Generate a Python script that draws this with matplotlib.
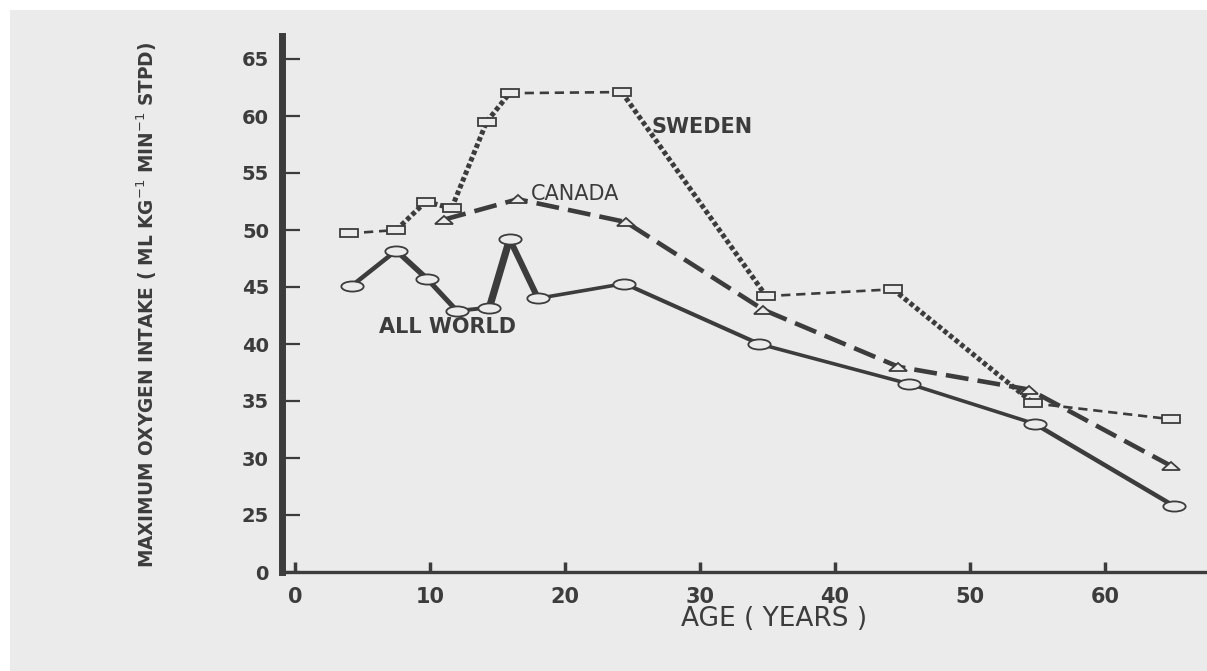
import matplotlib
matplotlib.use('Agg')
import matplotlib.pyplot as plt
from matplotlib.markers import MarkerStyle
from matplotlib.transforms import Affine2D
from matplotlib.patches import Rectangle

# values (age in years, VO2 max in ml/kg/min)
sweden_age = [4.0, 7.5, 9.7, 11.6, 14.2, 15.9, 24.2, 34.9, 44.3, 54.7, 64.9]
sweden_vo2 = [49.7, 50.0, 52.5, 51.9, 59.5, 62.0, 62.1, 44.2, 44.8, 34.8, 33.4]

canada_age = [11.0, 16.5, 24.5, 34.7, 44.7, 54.4, 64.9]
canada_vo2 = [50.9, 52.7, 50.7, 43.0, 38.0, 36.0, 29.3]

world_age = [4.2, 7.5, 9.8, 12.0, 14.4, 15.9, 18.0, 24.4, 34.4, 45.5, 54.8, 65.1]
world_vo2 = [45.1, 48.2, 45.7, 42.9, 43.2, 49.2, 44.0, 45.3, 40.0, 36.5, 33.0, 25.8]

x_ticks = [0, 10, 20, 30, 40, 50, 60]
# broken y axis: the bottom "0" sits where 20 would be
y_ticks = [20, 25, 30, 35, 40, 45, 50, 55, 60, 65]
y_ticklabels = ['0', '25', '30', '35', '40', '45', '50', '55', '60', '65']

# segment styles of the Sweden line (dotted / thin dashed pieces)
sweden_seg = ['dash', 'dot', 'dot', 'dot', 'dot', 'dash', 'dot', 'dash', 'dot', 'dash']
# line width per segment of the All World line
world_lw = [3.2, 4.0, 3.6, 2.8, 5.2, 4.4, 2.6, 2.9, 2.6, 2.6, 3.2]

ink = '#3c3c3c'
paper = '#ebebeb'

fig = plt.figure(figsize=(12.07, 6.71), dpi=100)
fig.patch.set_facecolor(paper)
# white scan border
fig.patches.append(Rectangle((0, 0), 10 / 1207, 1, transform=fig.transFigure,
                             facecolor='white', edgecolor='none', zorder=-1))
fig.patches.append(Rectangle((0, 1 - 10 / 671), 1, 10 / 671, transform=fig.transFigure,
                             facecolor='white', edgecolor='none', zorder=-1))

ax = fig.add_axes([281.5 / 1207, 99 / 671, 925.5 / 1207, 536 / 671])
ax.set_facecolor('none')
ax.set_xlim(-1, -1 + 925.5 / 13.5)
ax.set_ylim(20, 20 + 536 / 11.4)

# Sweden
for i in range(len(sweden_age) - 1):
    xs = sweden_age[i:i + 2]
    ys = sweden_vo2[i:i + 2]
    if sweden_seg[i] == 'dot':
        ax.plot(xs, ys, color=ink, lw=3.6, dashes=(0.9, 0.55), zorder=2)
    else:
        ax.plot(xs, ys, color=ink, lw=1.9, dashes=(3.5, 2.2), zorder=2)

# Canada
ax.plot(canada_age, canada_vo2, color=ink, lw=3.3, dashes=(5, 2), zorder=2)

# All World
for i in range(len(world_age) - 1):
    ax.plot(world_age[i:i + 2], world_vo2[i:i + 2], color=ink,
            lw=world_lw[i], solid_capstyle='round', zorder=2)

# markers (scan is stretched sideways, so markers are wide)
sq = MarkerStyle('s', transform=Affine2D().scale(2.2, 1.0))
tri = MarkerStyle('^', transform=Affine2D().scale(2.4, 1.0))
circ = MarkerStyle('o', transform=Affine2D().scale(2.2, 1.0))
ax.plot(sweden_age, sweden_vo2, ls='none', marker=sq, ms=6, mfc=paper, mec=ink, mew=1.3, zorder=4)
ax.plot(canada_age, canada_vo2, ls='none', marker=tri, ms=5.5, mfc=paper, mec=ink, mew=1.3, zorder=4)
ax.plot(world_age, world_vo2, ls='none', marker=circ, ms=7.3, mfc=paper, mec=ink, mew=1.3, zorder=4)

# labels on the lines
ax.text(26.4, 58.5, 'SWEDEN', fontsize=15, fontweight='bold', color=ink, ha='left', va='baseline')
ax.text(17.5, 52.6, 'CANADA', fontsize=15, color=ink, ha='left', va='baseline')
ax.text(6.2, 40.95, 'ALL WORLD', fontsize=15, fontweight='bold', color=ink, ha='left', va='baseline')

# axes
for s in ['top', 'right']:
    ax.spines[s].set_visible(False)
ax.spines['left'].set_linewidth(5)
ax.spines['left'].set_color(ink)
ax.spines['bottom'].set_linewidth(2.4)
ax.spines['bottom'].set_color(ink)

ax.set_xticks(x_ticks)
ax.set_xticklabels([str(t) for t in x_ticks], fontsize=15, fontweight='bold', color=ink)
ax.set_yticks(y_ticks)
ax.set_yticklabels(y_ticklabels, fontsize=14, fontweight='bold', color=ink)
ax.tick_params(axis='x', direction='in', length=7, width=2.5, pad=11, color=ink)
ax.tick_params(axis='y', direction='in', length=13, width=1.6, pad=9, color=ink)

xlab = ax.set_xlabel('AGE ( YEARS )', fontsize=19, color=ink)
xlab.set_ha('center')
xlab.set_va('center')
ax.xaxis.set_label_coords((774 - 281.5) / 925.5, (572 - 619) / 536)

ylab = ax.set_ylabel(r'MAXIMUM OXYGEN INTAKE ( ML KG$^{-1}$ MIN$^{-1}$ STPD)',
                     fontsize=20, fontweight='bold', color=ink)
ylab.set_ha('center')
ylab.set_va('center')
ax.yaxis.set_label_coords((147 - 281.5) / 925.5, (572 - 304.5) / 536)

# fit the axis title length to the scan (about 527 px tall)
fig.canvas.draw()
h = ylab.get_window_extent().height
ylab.set_fontsize(20 * 527 / h)

fig.savefig('out.png', dpi=100, facecolor=fig.get_facecolor())
